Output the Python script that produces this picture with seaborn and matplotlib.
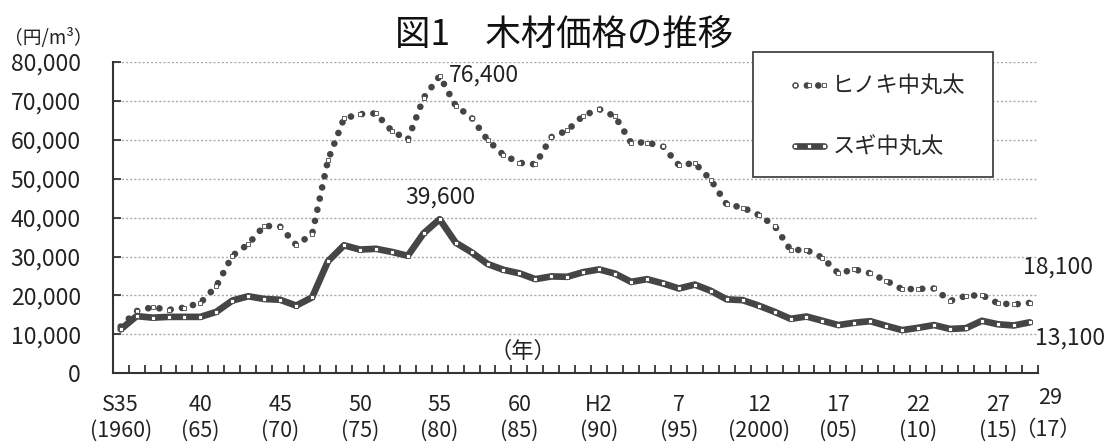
import numpy as np
import pandas as pd
import seaborn as sns
import matplotlib.pyplot as plt
from matplotlib.patches import Rectangle
from matplotlib.lines import Line2D

# 年（S35=1960 〜 H29=2017）
years = list(range(1960, 2018))

# ヒノキ中丸太（円/m3）
hinoki = [12000, 16000, 17000, 16300, 16900, 18100, 22400, 30200, 33200, 37900,
          37700, 33000, 35700, 54800, 65500, 66600, 66800, 62300, 60000, 70800,
          76400, 68800, 65700, 60000, 56100, 54100, 53700, 60700, 62400, 66200,
          67900, 66000, 59300, 59300, 58300, 53500, 54000, 49700, 43400, 42600,
          40700, 37900, 31700, 31700, 29700, 25700, 26700, 25700, 23800, 21600,
          21700, 21800, 18600, 19900, 20100, 18000, 17700, 18100]

# スギ中丸太（円/m3）
sugi = [11300, 14700, 14300, 14500, 14500, 14500, 15800, 18700, 19800, 19100,
        18900, 17400, 19500, 28800, 32900, 31800, 32000, 31200, 30200, 36000,
        39600, 33600, 31100, 28100, 26600, 25700, 24200, 24900, 24800, 26000,
        26700, 25600, 23500, 24200, 23100, 21800, 22800, 21200, 19000, 18800,
        17400, 15800, 14000, 14600, 13500, 12400, 13000, 13400, 12200, 11100,
        11700, 12400, 11400, 11600, 13500, 12600, 12300, 13100]

tick_pos = [0, 5, 10, 15, 20, 25, 30, 35, 40, 45, 50, 55]
tick_labels = ["S35\n(1960)", "40\n(65)", "45\n(70)", "50\n(75)", "55\n(80)", "60\n(85)",
               "H2\n(90)", "7\n(95)", "12\n(2000)", "17\n(05)", "22\n(10)", "27\n(15)"]

df = pd.DataFrame({"idx": np.arange(len(years)), "year": years,
                   "hinoki": hinoki, "sugi": sugi})

sns.set_style("white")
plt.rcParams['font.family'] = ['Noto Sans CJK JP', 'DejaVu Sans']

fig = plt.figure(figsize=(11.06, 4.42), dpi=100)
ax = fig.add_axes([0.1019, 0.1554, 0.8364, 0.7043])

col = "#454545"
sns.lineplot(data=df, x="idx", y="hinoki", ax=ax, color=col, linewidth=4.8,
             linestyle=(0, (0.01, 1.7)), dash_capstyle="round",
             marker="s", markersize=2.6, markerfacecolor="white",
             markeredgecolor=col, markeredgewidth=0.6)
sns.lineplot(data=df, x="idx", y="sugi", ax=ax, color=col, linewidth=4.8,
             solid_joinstyle="round", marker="s", markersize=2.6,
             markerfacecolor="white", markeredgecolor=col, markeredgewidth=0.6)

ax.set_xlim(-0.5, len(years) - 0.5)
ax.set_ylim(0, 80000)
ax.set_yticks(range(0, 80001, 10000))
ax.set_yticklabels([f"{v:,}" for v in range(0, 80001, 10000)], fontsize=16.5, color="#222")
ax.set_xticks(tick_pos)
ax.set_xticklabels(tick_labels, fontsize=15.5, color="#222", linespacing=1.22)
ax.set_xticks(np.arange(-0.5, len(years), 1), minor=True)
ax.tick_params(axis="x", which="major", bottom=True, length=0, pad=15)
ax.tick_params(axis="x", which="minor", bottom=True, direction="in", length=6,
               width=1.3, color="#333")
ax.tick_params(axis="y", left=True, direction="in", length=6, width=1.3,
               color="#333", pad=23)
ax.set_xlabel("")
ax.set_ylabel("")

for v in range(10000, 80001, 10000):
    ax.axhline(v, color="#aaaaaa", linewidth=1, linestyle=(0, (1.5, 1.5)), zorder=0)

for s in ["top", "right"]:
    ax.spines[s].set_visible(False)
for s in ["left", "bottom"]:
    ax.spines[s].set_color("#333")
    ax.spines[s].set_linewidth(1.5)

# 最終年のラベル
ax.text(58.3, -0.08, "29", transform=ax.get_xaxis_transform(), fontsize=15.5,
        ha="center", va="center", color="#222", clip_on=False)
ax.text(58.1, -0.183, "（17）", transform=ax.get_xaxis_transform(), fontsize=15.5,
        ha="center", va="center", color="#222", clip_on=False)

# 注記
ax.text(20.6, 76700, "76,400", fontsize=16.5, ha="left", va="center", color="#222")
ax.text(20.05, 45300, "39,600", fontsize=16.5, ha="center", va="center", color="#222")
ax.text(56.6, 27300, "18,100", fontsize=16.5, ha="left", va="center", color="#222", clip_on=False)
ax.text(57.35, 9000, "13,100", fontsize=16.5, ha="left", va="center", color="#222", clip_on=False)
ax.text(25.2, 5600, "（年）", fontsize=16, ha="center", va="center", color="#222")

fig.text(0.51, 0.92, "図1　木材価格の推移", fontsize=25.5, ha="center", va="center", color="#111")
fig.text(0.004, 0.913, "（円/m³）", fontsize=13.5, ha="left", va="center", color="#222")

# 凡例
fig.patches.append(Rectangle((753 / 1106, 1 - 177 / 442), 240 / 1106, 125 / 442,
                             transform=fig.transFigure, fill=True, facecolor="white",
                             edgecolor="#444", linewidth=1.3, zorder=5))
handles = [Line2D([], [], color=col, linewidth=4.8, linestyle=(0, (0.01, 1.7)),
                  dash_capstyle="round", marker="s", markersize=2.6, markevery=[1],
                  markerfacecolor="white", markeredgecolor=col, markeredgewidth=0.6),
           Line2D([], [], color=col, linewidth=4.8, marker="s", markersize=2.6, markevery=[1],
                  markerfacecolor="white", markeredgecolor=col, markeredgewidth=0.6)]
leg = fig.legend(handles, ["ヒノキ中丸太", "スギ中丸太"], loc="upper left",
                 bbox_to_anchor=(768 / 1106, 1 - 55 / 442), frameon=False,
                 fontsize=16, handlelength=1.9, handletextpad=0.1, labelspacing=1.7,
                 numpoints=3)
leg.set_zorder(6)

plt.savefig("out.png", dpi=100)
